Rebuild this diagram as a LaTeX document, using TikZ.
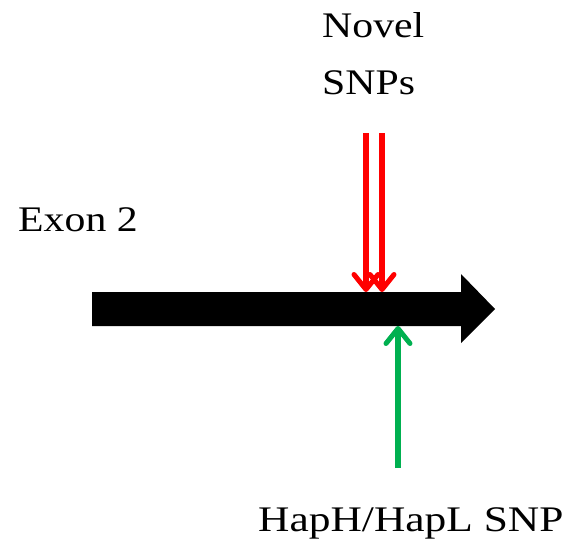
\documentclass[tikz,border=0pt]{standalone}
\usepackage{fontspec}
\setmainfont{Liberation Serif}
\usetikzlibrary{arrows.meta}
\definecolor{snpred}{RGB}{255,0,0}
\definecolor{snpgreen}{RGB}{0,176,80}
\tikzset{
  label/.style={anchor=base west, inner sep=0pt, xscale=1.16, font=\fontsize{36}{42}\selectfont},
  snparrow/.style={line width=5.5pt, -{Straight Barb[length=15pt, width=24pt, line width=5pt, round]}},
}
\begin{document}
\begin{tikzpicture}[x=1pt, y=-1pt]
  \useasboundingbox (0,0) rectangle (570,546);
  % exon body with arrow head
  \fill[black] (92,292) -- (461,292) -- (461,274) -- (495,309) -- (461,343)
     -- (461,326) -- (92,326) -- cycle;
  \coordinate (snpA) at (366,292);
  \coordinate (snpB) at (382,292);
  \coordinate (hap) at (398,326);
  \coordinate (snpAtop) at (366,133);
  \coordinate (snpBtop) at (382,133);
  \coordinate (hapbot) at (398,468);
  % labels
  \node[label] (novel) at (322,37) {Novel};
  \node[label] (snps) at (322,94) {SNPs};
  \node[label] (exon) at (18,231) {Exon 2};
  \node[label, xscale=1.04] (hapl) at (258,531) {HapH/HapL SNP};
  % SNP markers
  \draw[snparrow, snpred] (snpAtop) -- (snpA);
  \draw[snparrow, snpred] (snpBtop) -- (snpB);
  \draw[snparrow, snpgreen] (hapbot) -- (hap);
\end{tikzpicture}
\end{document}
